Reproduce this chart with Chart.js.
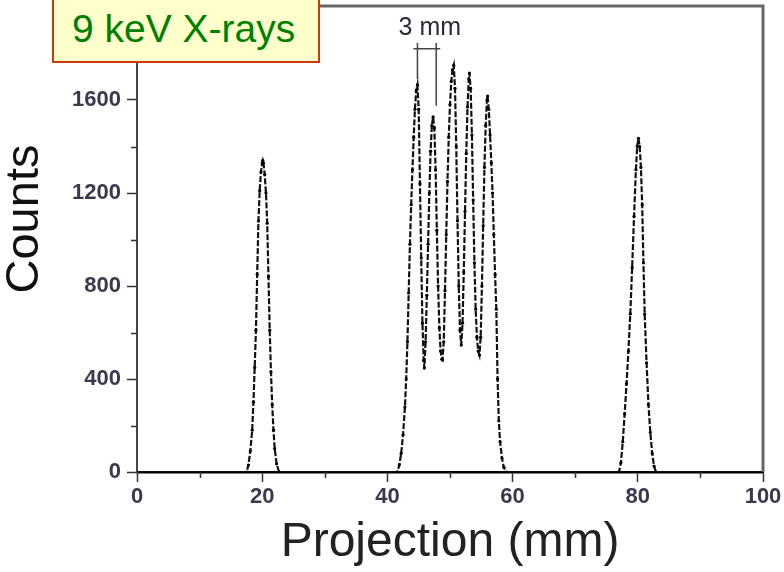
<!DOCTYPE html>
<html>
<head>
<meta charset="utf-8">
<script src="https://cdn.jsdelivr.net/npm/chart.js@4/dist/chart.umd.min.js"></script>
<style>
  body { margin: 0; background: #fff; }
  #wrap { position: relative; width: 784px; height: 572px; overflow: hidden; }
  #note {
    position: absolute; left: 52px; top: -12px; width: 264px; height: 71px;
    background: #ffffcc; border: 2px solid #cc3a0a;
    font-family: "Liberation Sans", Arial, sans-serif; font-size: 39px; color: #008000;
  }
  #note span { position: absolute; left: 18px; top: 17px; white-space: nowrap; }
</style>
</head>
<body>
<div id="wrap">
  <canvas id="profileChart" width="784" height="572"></canvas>
  <div id="note"><span>9 keV X-rays</span></div>
</div>
<script>
// projection profile: two single slits at 20 / 80 mm and a 5-slit group around 50 mm
const projection = [
  0, 17.5, 17.8, 18.1, 18.4, 18.6, 18.8, 19.0, 19.2, 19.4, 19.6, 19.8, 20.0, 20.1,
  20.2, 20.4, 20.6, 20.8, 21.0, 21.2, 21.4, 21.6, 21.8, 22.0, 22.3, 22.7,
  41.6, 41.9, 42.2, 42.5, 42.8, 43.0, 43.2, 43.4, 43.6, 43.8, 44.0, 44.2, 44.4, 44.6, 44.8,
  45.0, 45.2, 45.4, 45.6, 45.8, 45.9, 46.1, 46.3, 46.5, 46.7, 46.9, 47.1, 47.3,
  47.5, 47.7, 47.9, 48.1, 48.3, 48.5, 48.7, 48.8, 49.0, 49.2, 49.4, 49.6, 49.8, 50.0,
  50.2, 50.4, 50.6, 50.8, 51.0, 51.2, 51.4, 51.6, 51.8, 52.0, 52.2, 52.4, 52.6, 52.8,
  53.0, 53.1, 53.3, 53.5, 53.7, 53.9, 54.1, 54.3, 54.5, 54.7, 54.9, 55.1, 55.3, 55.5,
  55.7, 55.9, 56.0, 56.2, 56.4, 56.6, 56.8, 57.0, 57.2, 57.4, 57.6, 57.8, 58.0, 58.3, 58.6, 59.0,
  77.0, 77.3, 77.6, 77.9, 78.2, 78.5, 78.8, 79.1, 79.4, 79.7, 79.9, 80.1,
  80.3, 80.5, 80.7, 80.9, 81.1, 81.4, 81.7, 82.0, 82.3, 82.6, 82.9, 100
];
const counts = [
  0, 0, 30, 90, 180, 300, 450, 610, 850, 1080, 1210, 1290, 1330, 1340,
  1330, 1280, 1200, 1070, 840, 610, 430, 290, 180, 100, 35, 0,
  0, 30, 80, 160, 280, 400, 560, 770, 980, 1150, 1300, 1440, 1560, 1640, 1665,
  1560, 1240, 920, 640, 480, 447, 560, 760, 980, 1200, 1380, 1490, 1527,
  1480, 1300, 1040, 800, 620, 520, 485, 482, 560, 780, 1020, 1250, 1440, 1580,
  1680, 1730, 1750, 1650, 1400, 1080, 800, 610, 546, 640, 860, 1120, 1370, 1570,
  1690, 1716, 1650, 1450, 1170, 900, 700, 580, 520, 503, 580, 800, 1060, 1310,
  1490, 1600, 1617, 1560, 1450, 1330, 1200, 1020, 850, 700, 400, 220, 130, 60, 20, 0,
  0, 40, 130, 250, 380, 520, 680, 880, 1100, 1300, 1400, 1435,
  1400, 1310, 1150, 900, 680, 470, 290, 170, 80, 25, 0, 0
];

// axis ticks
const xMajorTicks = [0, 20, 40, 60, 80, 100];
const xMinorTicks = [10, 30, 50, 70, 90];
const yMajorTicks = [0, 400, 800, 1200, 1600];
const yMinorTicks = [200, 600, 1000, 1400, 1800];

// "3 mm" spacing marker between the first two slits
const markerX = [44.8, 47.8];
const markerTop = 1845;
const markerBar = 1820;
const markerEnds = [1690, 1575];

const tickFont = { family: '"Liberation Sans", Arial, sans-serif', size: 22, weight: 'bold' };
const tickColor = '#3a3a4c';

const profilePlugin = {
  id: 'profilePlugin',
  afterDraw(chart) {
    const { ctx, chartArea: a, scales: { x, y } } = chart;
    ctx.save();

    // top + right frame
    ctx.strokeStyle = '#666';
    ctx.lineWidth = 3;
    ctx.beginPath();
    ctx.moveTo(a.left, a.top - 1);
    ctx.lineTo(a.right, a.top - 1);
    ctx.lineTo(a.right, a.bottom);
    ctx.stroke();

    // minor ticks
    ctx.strokeStyle = '#333';
    ctx.lineWidth = 1.5;
    ctx.beginPath();
    xMinorTicks.forEach(v => {
      const px = Math.round(x.getPixelForValue(v)) + 0.5;
      ctx.moveTo(px, a.bottom);
      ctx.lineTo(px, a.bottom + 6);
    });
    yMinorTicks.forEach(v => {
      const py = Math.round(y.getPixelForValue(v)) + 0.5;
      ctx.moveTo(a.left, py);
      ctx.lineTo(a.left - 6, py);
    });
    ctx.stroke();

    // spacing marker
    const x1 = x.getPixelForValue(markerX[0]);
    const x2 = x.getPixelForValue(markerX[1]);
    const yTop = y.getPixelForValue(markerTop);
    const yBar = y.getPixelForValue(markerBar);
    ctx.strokeStyle = '#444';
    ctx.lineWidth = 1.5;
    ctx.beginPath();
    ctx.moveTo(x1, yTop); ctx.lineTo(x1, y.getPixelForValue(markerEnds[0]));
    ctx.moveTo(x2, yTop); ctx.lineTo(x2, y.getPixelForValue(markerEnds[1]));
    ctx.moveTo(x1 - 4, yBar); ctx.lineTo(x2 + 4, yBar);
    ctx.stroke();
    ctx.fillStyle = '#2a2a3a';
    ctx.font = '25px "Liberation Sans", Arial, sans-serif';
    ctx.textAlign = 'center';
    ctx.textBaseline = 'middle';
    ctx.fillText('3 mm', (x1 + x2) / 2 + 3, yTop - 15);

    // y axis title
    ctx.translate(25, 219);
    ctx.rotate(-Math.PI / 2);
    ctx.fillStyle = '#111';
    ctx.font = '47px "Liberation Sans", Arial, sans-serif';
    ctx.fillText('Counts', 0, 0);
    ctx.restore();
  }
};

const points = projection.map((p, i) => ({ x: p, y: counts[i] }));

new Chart(document.getElementById('profileChart').getContext('2d'), {
  type: 'line',
  data: {
    datasets: [{
      label: 'Counts',
      data: points,
      borderColor: '#111',
      borderWidth: 2.2,
      borderDash: [6, 2],
      pointRadius: 1.6,
      pointBackgroundColor: '#000',
      pointBorderWidth: 0,
      tension: 0
    }]
  },
  options: {
    responsive: false,
    animation: false,
    devicePixelRatio: 1,
    layout: { padding: { top: 7, right: 21, left: 0, bottom: 0 } },
    plugins: { legend: { display: false }, tooltip: { enabled: false } },
    scales: {
      x: {
        type: 'linear',
        min: 0,
        max: 100,
        afterBuildTicks: scale => { scale.ticks = xMajorTicks.map(v => ({ value: v })); },
        afterFit: scale => { scale.height = 100; scale.paddingLeft = 0; scale.paddingRight = 0; },
        ticks: { font: tickFont, color: tickColor, padding: 2, maxRotation: 0, callback: v => String(v) },
        grid: { drawOnChartArea: false, tickLength: 10, tickColor: '#333', tickWidth: 1.5 },
        border: { color: '#000', width: 2.5 },
        title: {
          display: true,
          text: 'Projection (mm)',
          color: '#222',
          padding: 0,
          font: { family: '"Liberation Sans", Arial, sans-serif', size: 48 }
        }
      },
      y: {
        min: 0,
        max: 2000,
        afterBuildTicks: scale => { scale.ticks = yMajorTicks.map(v => ({ value: v })); },
        afterFit: scale => { scale.width = 137; scale.paddingTop = 0; scale.paddingBottom = 0; },
        ticks: { font: tickFont, color: tickColor, padding: 6, callback: v => String(v) },
        grid: { drawOnChartArea: false, tickLength: 10, tickColor: '#333', tickWidth: 1.5 },
        border: { color: '#444', width: 2 }
      }
    }
  },
  plugins: [profilePlugin]
});
</script>
</body>
</html>
